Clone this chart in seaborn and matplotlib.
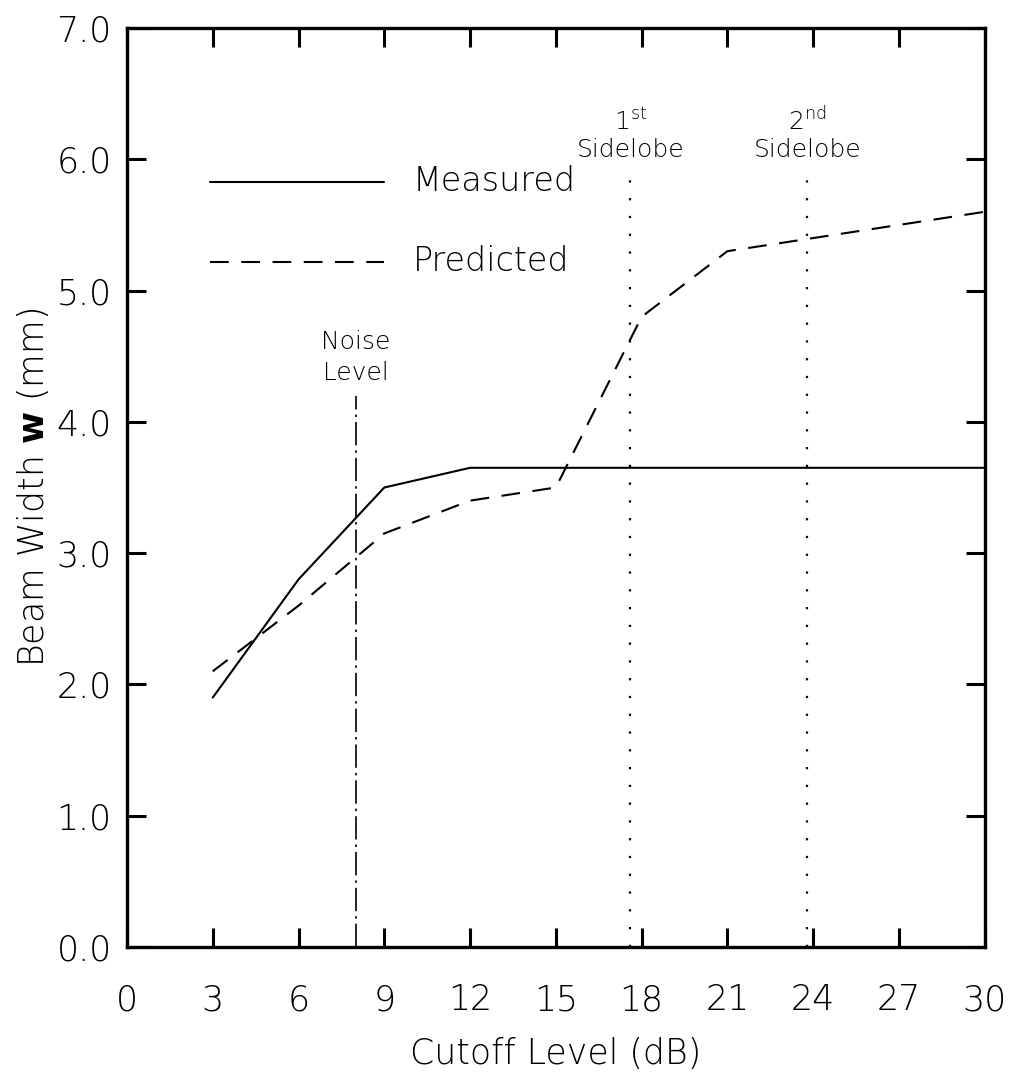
import matplotlib
matplotlib.use("Agg")
import matplotlib.pyplot as plt
import seaborn as sns
import pandas as pd

# data
cutoff_db = [3, 6, 9, 12, 15, 18, 21, 24, 27, 30]
measured = [1.9, 2.8, 3.5, 3.65, 3.65, 3.65, 3.65, 3.65, 3.65, 3.65]
predicted = [2.1, 2.6, 3.15, 3.4, 3.5, 4.8, 5.3, 5.4, 5.5, 5.6]
noise_level = 8.0
sidelobes = [17.6, 23.8]
sidelobe_labels = ["1$^{\\mathrm{st}}$\nSidelobe", "2$^{\\mathrm{nd}}$\nSidelobe"]

df = pd.DataFrame({"cutoff": cutoff_db * 2,
                   "width": measured + predicted,
                   "kind": ["Measured"] * len(cutoff_db) + ["Predicted"] * len(cutoff_db)})

sns.set_style("ticks")
plt.rcParams["font.family"] = ["DejaVu Sans"]
plt.rcParams["font.weight"] = "light"
plt.rcParams["axes.labelweight"] = "light"
plt.rcParams["mathtext.fontset"] = "dejavusans"
for k in ["text.color", "axes.labelcolor", "xtick.color", "ytick.color", "axes.edgecolor"]:
    plt.rcParams[k] = "black"

fig = plt.figure(figsize=(10.11, 10.77), dpi=100)
ax = fig.add_axes([0.1256, 0.1207, 0.8484, 0.8533])

sns.lineplot(data=df[df.kind == "Measured"], x="cutoff", y="width", ax=ax,
             color="black", lw=1.5, legend=False)
sns.lineplot(data=df[df.kind == "Predicted"], x="cutoff", y="width", ax=ax,
             color="black", lw=1.5, legend=False)
ax.lines[1].set_dashes([9, 6])

# reference lines
ax.plot([noise_level, noise_level], [0, 4.2], color="black", lw=1.2,
        dashes=[14, 3, 1.5, 3])
ax.text(noise_level, 4.28, "Noise\nLevel", ha="center", va="bottom", fontsize=18,
        linespacing=1.35)
for xs, lab in zip(sidelobes, sidelobe_labels):
    ax.plot([xs, xs], [0, 5.95], color="black", lw=1.6, dashes=[1, 7])
    ax.text(xs, 5.98, lab, ha="center", va="bottom", fontsize=18, linespacing=1.15)

# legend drawn inside like the original
ax.plot([2.9, 9.0], [5.83, 5.83], color="black", lw=1.5)
ax.plot([2.9, 9.0], [5.22, 5.22], color="black", lw=1.5, dashes=[9, 6])
ax.text(10.0, 5.83, "Measured", va="center", fontsize=24)
ax.text(10.0, 5.22, "Predicted", va="center", fontsize=24)

ax.set_xlim(0, 30)
ax.set_ylim(0, 7)
ax.set_xticks(range(0, 31, 3))
ax.set_yticks([i * 1.0 for i in range(8)])
ax.set_yticklabels([f"{i:.1f}" for i in range(8)])
ax.tick_params(direction="in", length=14, width=2.2, labelsize=25,
               top=True, right=True)
ax.tick_params(axis="x", pad=26)
ax.tick_params(axis="y", pad=11)
for s in ax.spines.values():
    s.set_linewidth(2.4)
    s.set_visible(True)

ax.set_xlabel("Cutoff Level (dB)", fontsize=25, labelpad=14)
ax.set_ylabel("Beam Width $\\mathbf{w}$ (mm)", fontsize=25, labelpad=4)

fig.savefig("out.png", dpi=100)
